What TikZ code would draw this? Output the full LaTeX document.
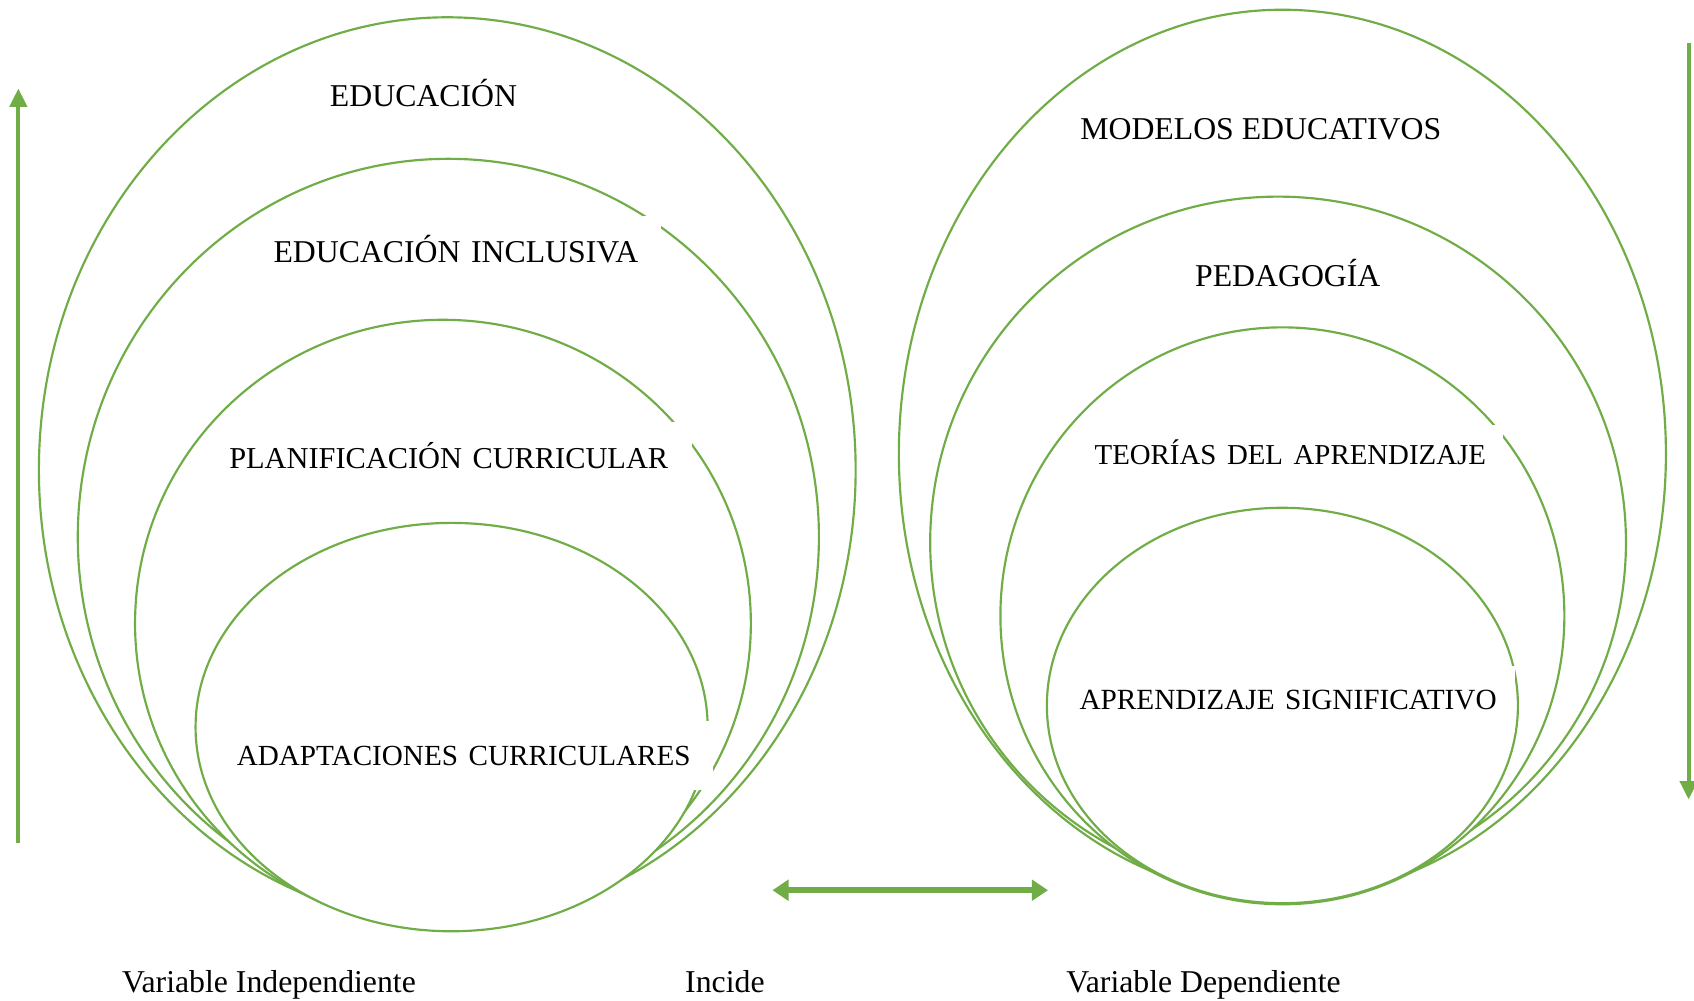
\documentclass[tikz,border=0pt]{standalone}
\usepackage{fontspec}
\setmainfont{Liberation Serif}
\usetikzlibrary{arrows.meta,shapes.geometric}
\definecolor{vgreen}{HTML}{70AD47}
\newcommand{\lbfont}{\fontsize{29.4}{35}\selectfont}
\newcommand{\fsz}[1]{\fontsize{#1}{35}\selectfont}
\begin{document}
\begin{tikzpicture}[x=1pt,y=-1pt,
  ell/.style={ellipse, draw=vgreen, line width=2pt, fill=white, inner sep=0pt},
  lbl/.style={font=\lbfont, text height=19.5pt, text depth=0pt, inner ysep=0pt, inner xsep=0pt},
  boxlbl/.style={lbl, fill=white, anchor=west, align=left, inner xsep=7pt},
  arr/.style={draw=vgreen, line width=3.5pt, -{Triangle[length=17pt,width=16pt]}},
  darr/.style={draw=vgreen, line width=6pt, {Triangle[length=15pt,width=19pt]}-{Triangle[length=15pt,width=19pt]}}
]
\fill[white] (0,0) rectangle (1568,926);
\useasboundingbox (0,0) rectangle (1568,926);

% left group
\node[ell, minimum width=756pt, minimum height=838pt] (e1) at (414,435) {};
\node[ell, minimum width=686pt, minimum height=700pt] (e2) at (415,497) {};
\node[ell, minimum width=570pt, minimum height=562pt] (e3) at (410,577) {};
\node[ell, minimum width=474pt, minimum height=378pt] (e4) at (418,673) {};

% right group
\node[ell, minimum width=710pt, minimum height=822pt] (r1) at (1187,420) {};
\node[ell, minimum width=644pt, minimum height=640pt] (r2) at (1183,502) {};
\node[ell, minimum width=522pt, minimum height=534pt] (r3) at (1187,570) {};
\node[ell, minimum width=436pt, minimum height=366pt] (r4) at (1187,653) {};

% labels
\node[lbl] (t1) at (392,89) {EDUCACIÓN};
\node[boxlbl, text width=352pt, minimum height=66pt] (t2) at (246,233) {\mbox{EDUCACIÓN INCLUSIVA}};
\node[boxlbl, text width=421pt, minimum height=66pt] (t3) at (205,424) {\fsz{28.1}\mbox{PLANIFICACIÓN CURRICULAR}};
\node[boxlbl, text width=434pt, minimum height=64pt] (t4) at (212,699) {\fsz{27.0}\mbox{ADAPTACIONES CURRICULARES}};

\node[lbl] (s1) at (1167,119) {MODELOS EDUCATIVOS};
\node[lbl] (s2) at (1192,255) {PEDAGOGÍA};
\node[boxlbl, text width=371pt, minimum height=54pt] (s3) at (1006,420) {\fsz{26.7}\mbox{TEORÍAS DEL APRENDIZAJE}};
\node[boxlbl, text width=396pt, minimum height=62pt] (s4) at (992,647) {\fsz{27.1}\mbox{APRENDIZAJE SIGNIFICATIVO}};

\node[lbl] (vi) at (249,909) {Variable Independiente};
\node[lbl] (inc) at (671,909) {Incide};
\node[lbl] (vd) at (1114,909) {Variable Dependiente};

% arrows
\coordinate (lup0) at (17,780);
\coordinate (lup1) at (17,82);
\draw[arr] (lup0) -- (lup1);
\coordinate (rdn0) at (1563,40);
\coordinate (rdn1) at (1563,740);
\draw[arr] (rdn0) -- (rdn1);
\coordinate (h0) at (715,824);
\coordinate (h1) at (970,824);
\draw[darr] (h0) -- (h1);
\end{tikzpicture}
\end{document}
